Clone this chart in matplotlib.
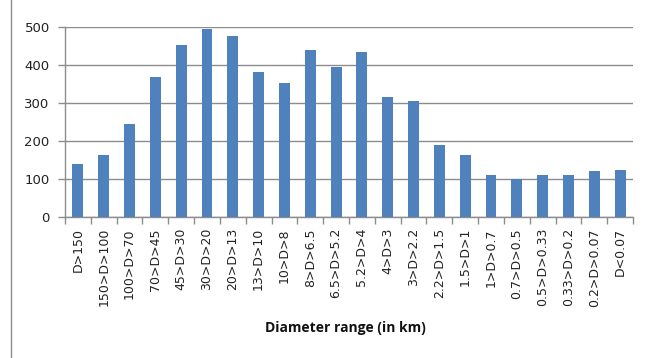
import matplotlib
matplotlib.use("Agg")
import matplotlib.pyplot as plt
import numpy as np
from matplotlib.lines import Line2D

categories = ["D>150", "150>D>100", "100>D>70", "70>D>45", "45>D>30", "30>D>20",
              "20>D>13", "13>D>10", "10>D>8", "8>D>6.5", "6.5>D>5.2", "5.2>D>4",
              "4>D>3", "3>D>2.2", "2.2>D>1.5", "1.5>D>1", "1>D>0.7", "0.7>D>0.5",
              "0.5>D>0.33", "0.33>D>0.2", "0.2>D>0.07", "D<0.07"]
counts = [139, 164, 245, 368, 453, 495, 478, 382, 354, 440, 396, 435,
          316, 305, 189, 163, 110, 101, 110, 110, 121, 125]
y_ticks = [0, 100, 200, 300, 400, 500]

bar_color = "#4F81BD"
grid_color = "#8C8C8C"

fig = plt.figure(figsize=(6.47, 3.58), dpi=100)
ax = fig.add_axes([65 / 647, 1 - 217 / 358, (633 - 65) / 647, (217 - 27.3) / 358])

x = np.arange(len(categories))
ax.bar(x, counts, width=0.42, color=bar_color, zorder=3)

ax.set_xlim(-0.5, len(categories) - 0.5)
ax.set_ylim(0, 500)
ax.set_yticks(y_ticks)
ax.set_yticklabels([str(v) for v in y_ticks], fontsize=9.5, color="#222222",
                   family="DejaVu Sans")
ax.yaxis.grid(True, color=grid_color, linewidth=1.0, zorder=0)

ax.set_xticks(x)
ax.set_xticklabels(categories, rotation=90, fontsize=9, color="#222222",
                   family="DejaVu Sans")
ax.set_xticks(np.arange(-0.5, len(categories), 1.0), minor=True)
ax.tick_params(axis="x", which="major", length=0, pad=8)
ax.tick_params(axis="x", which="minor", length=5, color=grid_color, width=1)
ax.tick_params(axis="y", length=5, color=grid_color, width=1, pad=6)

for side in ("top", "right"):
    ax.spines[side].set_visible(False)
for side in ("left", "bottom"):
    ax.spines[side].set_color(grid_color)
    ax.spines[side].set_linewidth(1.0)

fig.text(345 / 647, 1 - 328 / 358, "Diameter range (in km)", ha="center",
         va="center", fontsize=10, fontweight="bold", family="Open Sans",
         color="#111111")

# thin frame line on the left edge
fig.add_artist(Line2D([11 / 647, 11 / 647], [0, 1], color="#8C8C8C",
                      linewidth=1.0, transform=fig.transFigure))

fig.savefig("out.png", dpi=100, facecolor="white")
